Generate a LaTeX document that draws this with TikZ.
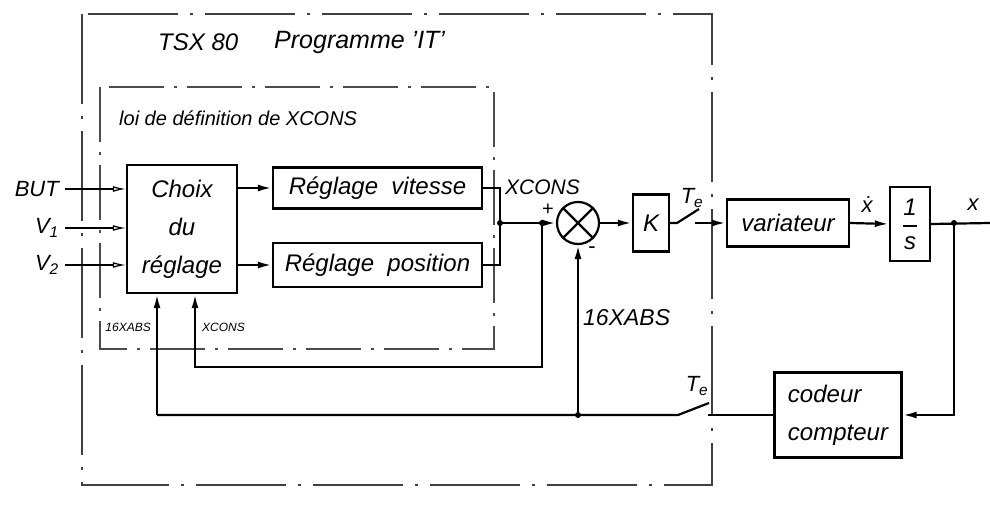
\documentclass[tikz,border=0pt]{standalone}
\usepackage{amsmath}
\usepackage{fontspec}
\setmainfont{Liberation Sans}
\usetikzlibrary{arrows.meta,positioning}

\begin{document}
\begin{tikzpicture}[x=1pt,y=-1pt,>={Latex[length=14pt,width=7pt]},
  txt/.style={inner sep=1pt,font=\itshape\fontsize{24}{28}\selectfont},
  blok/.style={draw,line width=2.4pt,txt,inner sep=2pt},
  sig/.style={line width=2.2pt},
  fine/.style={line width=1.2pt,shorten <=5pt,-{Latex[open,length=13pt,width=6pt]}},
  cadre/.style={line width=1.4pt,black!75,dash pattern=on 90pt off 12pt on 3pt off 12pt},
  cadrein/.style={line width=1.3pt,black!70,dash pattern=on 55pt off 10pt on 3pt off 10pt}]
  \useasboundingbox (0,0) rectangle (990,506);
  % ---- dash-dot frames ----
  \draw[cadre] (82,14) rectangle (712,485);
  \draw[cadrein] (100,87) rectangle (494,349);
  \node[txt,anchor=west,font=\itshape\fontsize{24}{28}\selectfont] (ttsx) at (157,42) {TSX 80};
  \node[txt,anchor=west,font=\itshape\fontsize{25}{28}\selectfont] (tprog) at (273,42) {Programme 'IT'};
  \node[txt,anchor=west,font=\itshape\fontsize{20}{22}\selectfont] (tloi) at (118,118) {loi de définition de XCONS};
  % ---- blocks ----
  \node[blok,minimum width=110pt,minimum height=128pt,align=center] (choix) at (182,229)
    {Choix\\[10pt]du\\[10pt]réglage};
  \node[blok,minimum width=209pt,minimum height=41pt] (vit) at (377.5,188) {Réglage\ \ vitesse};
  \node[blok,minimum width=209pt,minimum height=44pt] (pos) at (377.5,265) {Réglage\ \ position};
  \node[draw,circle,line width=2.2pt,minimum size=42pt] (sum) at (578,223) {};
  \draw[sig] (sum.45) -- (sum.225) (sum.135) -- (sum.315);
  \node[blok,minimum width=36pt,minimum height=57pt] (K) at (651,223) {K};
  \node[blok,minimum width=122pt,minimum height=47pt] (var) at (788,223) {variateur};
  \node[blok,minimum width=40pt,minimum height=74pt] (integ) at (910,224)
    {$\genfrac{}{}{2pt}{0}{\textit{1}}{\textit{s}}$};
  \node[blok,minimum width=127pt,minimum height=85pt,align=left] (cod) at (838,415)
    {codeur\\[10pt]compteur};
  % ---- inputs ----
  \node[txt,anchor=east,font=\itshape\fontsize{22}{26}\selectfont] (but) at (60,189) {BUT};
  \node[txt,anchor=east,font=\itshape\fontsize{22}{26}\selectfont] (v1) at (60,228) {V\textsubscript{1}};
  \node[txt,anchor=east,font=\itshape\fontsize{22}{26}\selectfont] (v2) at (60,265) {V\textsubscript{2}};
  \draw[fine] (but) -- (but -| choix.west);
  \draw[fine] (v1) -- (v1 -| choix.west);
  \draw[fine] (v2) -- (v2 -| choix.west);
  % ---- forward path ----
  \coordinate (jc) at (500,223);
  \coordinate (jf) at (542,223);
  \draw[sig,->] (choix.east |- vit.west) -- (vit.west);
  \draw[sig,->] (choix.east |- pos.west) -- (pos.west);
  \draw[sig] (vit.east) -| (jc) (pos.east) -| (jc);
  \draw[sig,->] (jc) -- (sum.west);
  \draw[sig,->] (sum.east) -- (K.west);
  % sampler after K
  \coordinate (s1p) at (677,223);
  \coordinate (s1t) at (699,209);
  \coordinate (s1c) at (695,223);
  \draw[sig] (K.east) -- (s1p) -- (s1t);
  \draw[sig,->] (s1c) -- (var.west);
  \draw[sig,->] (var.east) -- (integ.west);
  \coordinate (jx) at (954,223);
  \coordinate (xend) at (990,223);
  \draw[sig] (integ.east) -- (xend);
  % ---- feedback paths ----
  \draw[sig,->] (jx) |- (cod.east);
  \coordinate (s2c) at (708,415);
  \coordinate (s2p) at (678,415);
  \coordinate (s2t) at (709,403);
  \coordinate (jb) at (578,415);
  \coordinate (rb) at (157,415);
  \coordinate (rx) at (195,367);
  \draw[sig] (cod.west) -- (s2c);
  \draw[sig] (s2t) -- (s2p) -- (rb);
  \draw[sig,->] (rb) -- (rb |- choix.south);
  \draw[sig,->] (jb) -- (sum.south);
  \draw[sig,->] (jf) |- (rx) -- (rx |- choix.south);
  \foreach \j in {jc,jf,jb,jx} \fill (\j) circle (3pt);
  % ---- labels ----
  \node[txt,anchor=west,font=\itshape\fontsize{21}{24}\selectfont] (lcons) at (504,187) {XCONS};
  \node[txt,anchor=west,font=\itshape\fontsize{23}{26}\selectfont] (labs) at (582,318) {16XABS};
  \node[txt,anchor=east,font=\itshape\fontsize{12}{14}\selectfont] (sabs) at (152,327) {16XABS};
  \node[txt,anchor=west,font=\itshape\fontsize{12}{14}\selectfont] (scons) at (201,327) {XCONS};
  \node[txt,font=\fontsize{20}{22}\selectfont] (plus) at (548,210) {+};
  \node[txt,font=\fontsize{22}{24}\selectfont] (moins) at (592,250) {-};
  \node[txt,font=\itshape\fontsize{22}{26}\selectfont] (te1) at (692,198) {T\textsubscript{e}};
  \node[txt,font=\itshape\fontsize{22}{26}\selectfont] (te2) at (697,386) {T\textsubscript{e}};
  \node[txt,font=\itshape\fontsize{22}{26}\selectfont] (xdot) at (867,205) {\.{x}};
  \node[txt,font=\itshape\fontsize{22}{26}\selectfont] (xout) at (973,205) {x};
\end{tikzpicture}
\end{document}
